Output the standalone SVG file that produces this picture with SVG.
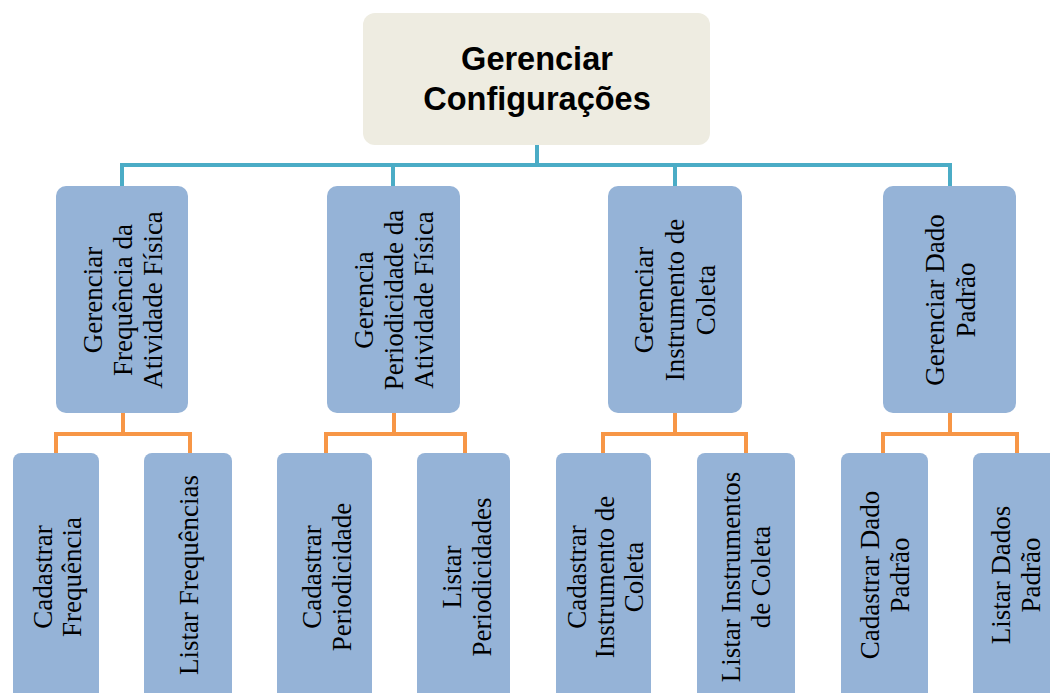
<svg xmlns="http://www.w3.org/2000/svg" width="1050" height="693" viewBox="0 0 1050 693">
<style>
.bg{fill:#ffffff}
.top{fill:#EEECE1}
.box{fill:#95B3D7}
.blue{fill:none;stroke:#4BACC6;stroke-width:4}
.orange{fill:none;stroke:#F79646;stroke-width:4}
.title{font-family:"Liberation Sans",Arial,sans-serif;font-weight:bold;font-size:32.5px;fill:#000;text-anchor:middle}
.lbl{font-family:"Liberation Serif","Times New Roman",serif;font-size:27px;fill:#000;text-anchor:middle}
</style>
<rect class="bg" x="0" y="0" width="1050" height="693"/>
<g id="connectors">
<path class="blue" d="M537,145 V165 M122,165 H950 M122,163 V186 M393,163 V186 M675,163 V186 M950,163 V186"/>
<path class="orange" d="M123,413 V434 M56,434 H190 M56,432 V453 M190,432 V453"/>
<path class="orange" d="M394,413 V434 M326,434 H465 M326,432 V453 M465,432 V453"/>
<path class="orange" d="M675,413 V434 M603,434 H746 M603,432 V453 M746,432 V453"/>
<path class="orange" d="M950,413 V434 M883,434 H1017 M883,432 V453 M1017,432 V453"/>
</g>
<g id="root">
<rect class="top" x="363" y="13" width="347" height="132" rx="12"/>
<text class="title" x="537" y="70">Gerenciar</text>
<text class="title" x="537" y="110">Configurações</text>
</g>
<g id="n1">
<rect class="box" x="56" y="186" width="132" height="227" rx="10"/>
<text class="lbl" transform="translate(122,300) rotate(-90)"><tspan x="0" y="-20">Gerenciar</tspan><tspan x="0" y="10">Frequência da</tspan><tspan x="0" y="40">Atividade Física</tspan></text>
</g>
<g id="n2">
<rect class="box" x="327" y="186" width="133" height="227" rx="10"/>
<text class="lbl" transform="translate(393.5,300) rotate(-90)"><tspan x="0" y="-21">Gerencia</tspan><tspan x="0" y="9">Periodicidade da</tspan><tspan x="0" y="39">Atividade Física</tspan></text>
</g>
<g id="n3">
<rect class="box" x="608" y="186" width="134" height="227" rx="10"/>
<text class="lbl" transform="translate(675,300) rotate(-90)"><tspan x="0" y="-22">Gerenciar</tspan><tspan x="0" y="9">Instrumento de</tspan><tspan x="0" y="40">Coleta</tspan></text>
</g>
<g id="n4">
<rect class="box" x="883" y="186" width="133" height="227" rx="10"/>
<text class="lbl" transform="translate(949.5,300) rotate(-90)"><tspan x="0" y="-6">Gerenciar Dado</tspan><tspan x="0" y="25">Padrão</tspan></text>
</g>
<g id="c1">
<rect class="box" x="13" y="453" width="86" height="260" rx="8"/>
<text class="lbl" transform="translate(56,577) rotate(-90)"><tspan x="0" y="-4">Cadastrar</tspan><tspan x="0" y="25">Frequência</tspan></text>
</g>
<g id="c2">
<rect class="box" x="144" y="453" width="88" height="260" rx="8"/>
<text class="lbl" transform="translate(188,575) rotate(-90)"><tspan x="0" y="10">Listar Frequências</tspan></text>
</g>
<g id="c3">
<rect class="box" x="277" y="453" width="95" height="260" rx="8"/>
<text class="lbl" transform="translate(324.5,577) rotate(-90)"><tspan x="0" y="-4">Cadastrar</tspan><tspan x="0" y="26">Periodicidade</tspan></text>
</g>
<g id="c4">
<rect class="box" x="417" y="453" width="93" height="260" rx="8"/>
<text class="lbl" transform="translate(463.5,577) rotate(-90)"><tspan x="0" y="-3">Listar</tspan><tspan x="0" y="27">Periodicidades</tspan></text>
</g>
<g id="c5">
<rect class="box" x="556" y="453" width="95" height="260" rx="8"/>
<text class="lbl" transform="translate(603.5,577) rotate(-90)"><tspan x="0" y="-18">Cadastrar</tspan><tspan x="0" y="10">Instrumento de</tspan><tspan x="0" y="39">Coleta</tspan></text>
</g>
<g id="c6">
<rect class="box" x="697" y="453" width="98" height="260" rx="8"/>
<text class="lbl" transform="translate(746,577) rotate(-90)"><tspan x="0" y="-6">Listar Instrumentos</tspan><tspan x="0" y="24">de Coleta</tspan></text>
</g>
<g id="c7">
<rect class="box" x="841" y="453" width="87" height="260" rx="8"/>
<text class="lbl" transform="translate(884.5,575) rotate(-90)"><tspan x="0" y="-6">Cadastrar Dado</tspan><tspan x="0" y="24">Padrão</tspan></text>
</g>
<g id="c8">
<rect class="box" x="973" y="453" width="88" height="260" rx="8"/>
<text class="lbl" transform="translate(1017,575) rotate(-90)"><tspan x="0" y="-7">Listar Dados</tspan><tspan x="0" y="23">Padrão</tspan></text>
</g>
</svg>
